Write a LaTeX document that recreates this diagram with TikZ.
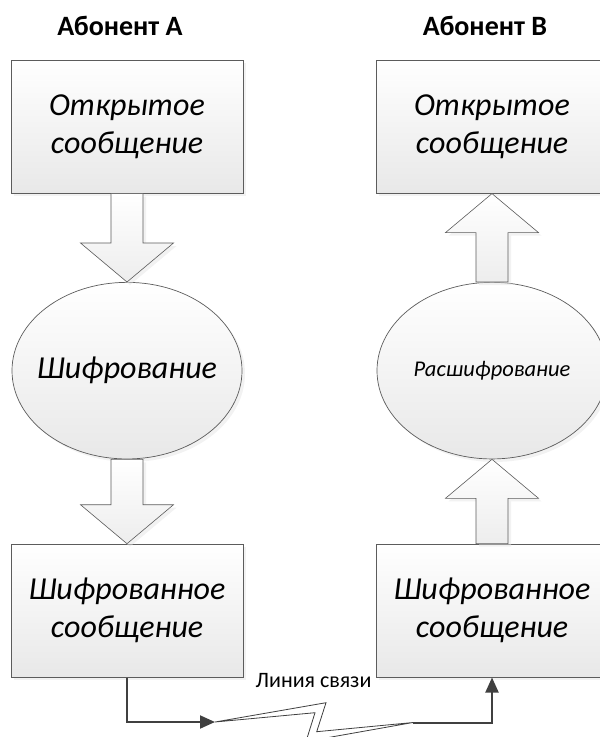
\documentclass[tikz,border=0pt]{standalone}
\usepackage{fontspec}
\setmainfont{Carlito}
\usetikzlibrary{arrows.meta,positioning,calc,shadows,shapes.geometric}
\definecolor{edge}{HTML}{404040}
\definecolor{frame}{HTML}{5C5C5C}
\tikzset{
  msg/.style={rectangle, draw=frame, line width=0.8pt, top color=white, bottom color=black!9,
    minimum width=232pt, minimum height=133pt, align=center, inner sep=0pt,
    font=\fontsize{32}{37.7}\selectfont\itshape,
    drop shadow={shadow xshift=3pt, shadow yshift=-3pt, fill=black!10}},
  proc/.style={ellipse, draw=frame, line width=0.7pt, top color=white, bottom color=black!9,
    minimum width=230pt, minimum height=176.6pt, inner sep=0pt, font=\itshape,
    drop shadow={shadow xshift=3pt, shadow yshift=-3pt, fill=black!10}},
  fatarr/.style={draw=frame, line width=0.6pt, top color=white, bottom color=black!7,
    drop shadow={shadow xshift=3pt, shadow yshift=-3pt, fill=black!10}},
  who/.style={font=\fontsize{28}{32}\selectfont\bfseries},
  link/.style={draw=edge, line width=2pt, -{Triangle[length=15pt,width=13pt]}},
  bolt/.style={draw=edge, line width=0.8pt, fill=white, line join=miter},
}
% block arrow from #1 (tail) to #2 (tip)
\newcommand{\fatarrow}[2]{%
  \coordinate (fa-b) at ($(#2)!39pt!(#1)$);
  \draw[fatarr] ($(#1)!16pt!90:(#2)$) -- ($(fa-b)!16pt!-90:(#1)$) -- ($(fa-b)!46.5pt!-90:(#1)$)
    -- (#2) -- ($(fa-b)!46.5pt!90:(#1)$) -- ($(fa-b)!16pt!90:(#1)$) -- ($(#1)!16pt!-90:(#2)$) -- cycle;}

\begin{document}
\begin{tikzpicture}[x=1pt, y=-1pt]
  \useasboundingbox (0,0) rectangle (600,737);

  \node[msg] (openA) at (127,126.7) {Открытое\\сообщение};
  \node[proc, below=88.4pt of openA, font=\fontsize{32}{36}\selectfont\itshape] (encA) {\makebox[0pt]{Шифрование}};
  \node[msg, below=84.4pt of encA] (cipherA) {Шифрованное\\сообщение};

  \node[msg] (openB) at (492,126.7) {Открытое\\сообщение};
  \node[proc, below=88.4pt of openB, font=\fontsize{22.5}{26}\selectfont\itshape] (decB) {\makebox[0pt]{Расшифрование}};
  \node[msg, below=84.4pt of decB] (cipherB) {Шифрованное\\сообщение};

  \node[who, above=21pt of openA, xshift=-7pt] (userA) {Абонент А};
  \node[who, above=21pt of openB, xshift=-7pt] (userB) {Абонент В};

  \fatarrow{openA.south}{encA.north}
  \fatarrow{encA.south}{cipherA.north}
  \fatarrow{decB.north}{openB.south}
  \fatarrow{cipherB.north}{decB.south}

  % channel
  \coordinate (boltL) at (215,722);
  \coordinate (boltR) at (413,722.5);
  \draw[bolt] (boltL) -- (326,702.7) -- (316.7,731.7) -- (boltR) -- (306,741.5) -- (315,712.7) -- cycle;
  \draw[link] (cipherA.south) |- (boltL);
  \draw[link] (boltR) -| (cipherB.south);
  \node[font=\fontsize{22}{26}\selectfont, anchor=base] (chan) at (313.5,687) {Линия связи};
\end{tikzpicture}
\end{document}
